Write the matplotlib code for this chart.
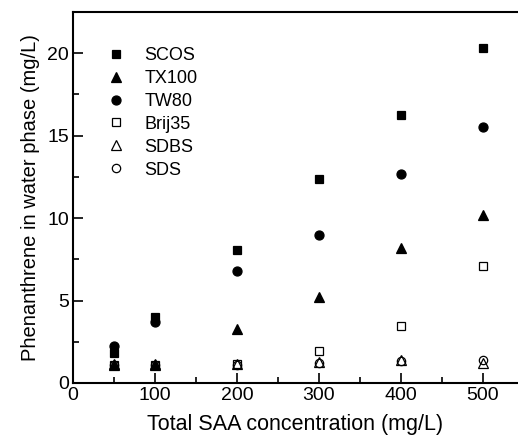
import matplotlib
matplotlib.use("Agg")
import matplotlib.pyplot as plt
from matplotlib.ticker import MultipleLocator

plt.rcParams['font.family'] = ['Liberation Sans', 'DejaVu Sans']

conc = [50, 100, 200, 300, 400, 500]
scos = [1.8, 4.0, 8.05, 12.35, 16.25, 20.3]
tx100 = [1.1, 1.1, 3.27, 5.23, 8.2, 10.16]
tw80 = [2.26, 3.72, 6.79, 8.97, 12.7, 15.55]
brij35 = [1.1, 1.1, 1.15, 1.94, 3.47, 7.09]
sdbs = [1.13, 1.13, 1.15, 1.3, 1.39, 1.23]
sds = [1.1, 1.1, 1.1, 1.2, 1.35, 1.4]

series = [
    ("SCOS", scos, 's', 'black', 6),
    ("TX100", tx100, '^', 'black', 7),
    ("TW80", tw80, 'o', 'black', 6.5),
    ("Brij35", brij35, 's', 'none', 5.5),
    ("SDBS", sdbs, '^', 'none', 6.5),
    ("SDS", sds, 'o', 'none', 6),
]

fig = plt.figure(figsize=(5.18, 4.42), dpi=100)
ax = fig.add_axes([0.141, 0.1335, 0.859, 0.8395])
for name, vals, m, fc, ms in series:
    ax.plot(conc, vals, linestyle='none', marker=m, markersize=ms,
            markerfacecolor=fc, markeredgecolor='black', markeredgewidth=0.9,
            label=name)

ax.set_xlim(0, 543)
ax.set_ylim(0, 22.5)
ax.xaxis.set_major_locator(MultipleLocator(100))
ax.xaxis.set_minor_locator(MultipleLocator(50))
ax.yaxis.set_major_locator(MultipleLocator(5))
ax.yaxis.set_minor_locator(MultipleLocator(2.5))
ax.tick_params(which='both', direction='in', labelsize=14, width=1.2)
ax.tick_params(which='major', length=7)
ax.tick_params(which='minor', length=4)
ax.tick_params(axis='x', pad=3)
ax.tick_params(axis='y', pad=3)
ax.spines['right'].set_visible(False)
for s in ['left', 'top', 'bottom']:
    ax.spines[s].set_linewidth(1.5)
ax.set_xlabel("Total SAA concentration (mg/L)", fontsize=15.5, labelpad=7)
ax.set_ylabel("Phenanthrene in water phase (mg/L)", fontsize=14.5, labelpad=5)
ax.legend(loc='upper left', bbox_to_anchor=(0.055, 0.93), frameon=False,
          fontsize=13, handletextpad=1.1, labelspacing=0.33, borderpad=0,
          handlelength=1.0)

fig.savefig("out.png", dpi=100)
